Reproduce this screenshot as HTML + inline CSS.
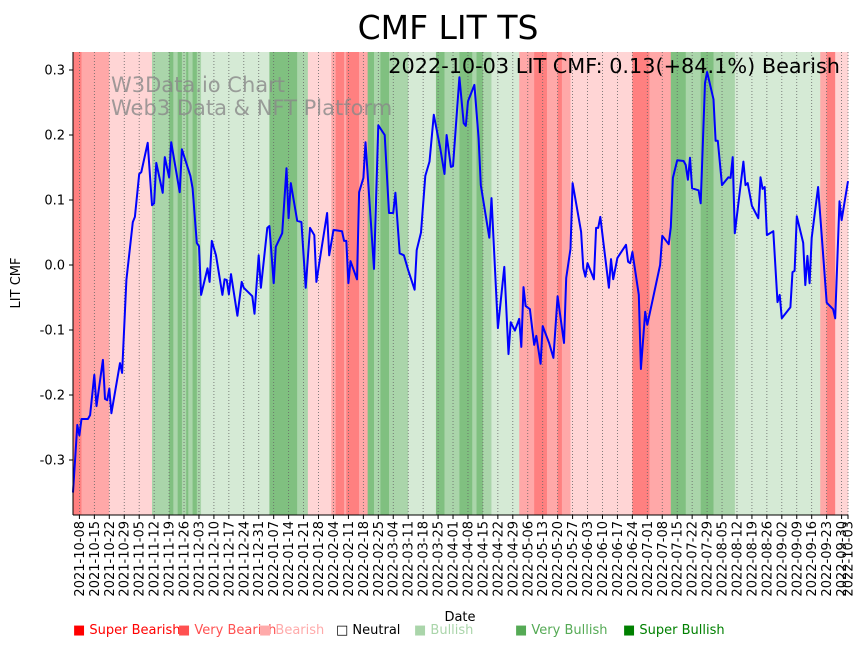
<!DOCTYPE html>
<html><head><meta charset="utf-8"><style>
body{margin:0;background:#fff;font-family:"Liberation Sans","DejaVu Sans",sans-serif;}
svg text{font-family:"DejaVu Sans","Liberation Sans",sans-serif;}
</style></head><body>
<svg id="chart" width="867" height="646" xmlns="http://www.w3.org/2000/svg">
<text x="448" y="39" font-size="33" text-anchor="middle">CMF LIT TS</text>
<g id="bands"></g><g id="grid"></g>
<text x="111" y="92" font-size="21" fill="#888" fill-opacity="0.8">W3Data.io Chart</text>
<text x="111" y="115" font-size="21" fill="#888" fill-opacity="0.8">Web3 Data &amp; NFT Platform</text>
<g id="line"></g>
<text x="840" y="73" font-size="20.8" text-anchor="end">2022-10-03 LIT CMF: 0.13(+84.1%) Bearish</text>
<g id="axes"></g>
<text transform="translate(20,283) rotate(-90)" font-size="13" text-anchor="middle">LIT CMF</text>
<text x="460" y="621" font-size="13" text-anchor="middle">Date</text>
<g id="legend" font-size="13">
<text x="73" y="634" fill="#ff0000">■ Super Bearish</text>
<text x="178" y="634" fill="#ff5050">■ Very Bearish</text>
<text x="259" y="634" fill="#ffaaaa">■ Bearish</text>
<text x="336" y="634" fill="#000">□ Neutral</text>
<text x="414" y="634" fill="#aad5aa">■ Bullish</text>
<text x="515" y="634" fill="#55aa55">■ Very Bullish</text>
<text x="623" y="634" fill="#008000">■ Super Bullish</text>
</g>
</svg>
<script>
const days=[0,2,3,4,7,8,10,11,14,15,16,17,18,22,23,25,28,29,31,32,35,37,38,39,42,43,45,46,50,51,55,56,58,59,60,63,64,65,67,70,71,72,73,74,77,79,80,84,85,87,88,91,92,94,95,98,100,101,102,105,107,109,111,113,114,116,119,120,122,126,127,128,129,130,133,134,136,137,141,143,146,148,150,151,153,155,157,160,161,163,165,167,169,172,174,175,177,178,181,183,184,185,188,190,191,195,196,199,202,204,205,207,209,210,211,212,214,216,217,219,220,223,225,227,230,231,233,234,238,239,240,241,244,245,246,247,251,252,253,255,259,260,261,262,265,266,268,269,275,276,279,280,281,283,286,287,288,289,290,293,294,296,297,300,301,302,304,307,308,309,310,314,315,316,318,321,322,323,324,325,328,330,331,332,336,337,338,339,342,343,344,345,346,349,353,356,357,359,360,363];
const values=[-0.35,-0.246,-0.262,-0.237,-0.237,-0.231,-0.169,-0.217,-0.146,-0.206,-0.208,-0.19,-0.228,-0.151,-0.166,-0.023,0.066,0.074,0.14,0.143,0.188,0.092,0.095,0.157,0.111,0.166,0.135,0.189,0.112,0.178,0.137,0.118,0.034,0.029,-0.046,-0.005,-0.026,0.037,0.015,-0.046,-0.022,-0.023,-0.045,-0.014,-0.078,-0.026,-0.035,-0.048,-0.075,0.015,-0.035,0.057,0.06,-0.028,0.028,0.049,0.149,0.072,0.126,0.068,0.066,-0.035,0.057,0.046,-0.026,0.017,0.08,0.015,0.054,0.052,0.037,0.037,-0.028,0.006,-0.022,0.112,0.134,0.189,-0.006,0.215,0.2,0.08,0.08,0.111,0.018,0.015,-0.008,-0.038,0.023,0.05,0.137,0.159,0.231,0.18,0.14,0.2,0.151,0.152,0.289,0.218,0.214,0.252,0.277,0.195,0.123,0.042,0.103,-0.097,-0.003,-0.137,-0.088,-0.101,-0.083,-0.126,-0.034,-0.063,-0.068,-0.123,-0.109,-0.152,-0.094,-0.12,-0.143,-0.048,-0.12,-0.02,0.025,0.126,0.051,-0.005,-0.018,0.003,-0.022,0.057,0.057,0.074,-0.035,0.009,-0.022,0.011,0.031,0.005,0.003,0.02,-0.046,-0.16,-0.072,-0.092,0,0.045,0.032,0.058,0.134,0.161,0.16,0.154,0.131,0.165,0.118,0.115,0.095,0.28,0.297,0.255,0.191,0.191,0.123,0.135,0.134,0.166,0.049,0.159,0.123,0.126,0.091,0.072,0.135,0.117,0.12,0.046,0.052,-0.057,-0.046,-0.082,-0.065,-0.011,-0.009,0.075,0.034,-0.031,0.014,-0.028,0.042,0.12,-0.058,-0.068,-0.082,0.098,0.069,0.129];
// band segments (day offsets) and sentiment category (-3..3)
const bandStarts=[0,4,17,37,45,47,49,51,53,54,56,58,60,92,105,110,121,123,127,128,134,138,141,144,148,157,170,174,181,187,189,192,196,209,216,222,227,229,233,262,270,280,287,294,300,310,350,353,357];
const bandEnds  =[4,17,37,45,47,49,51,53,54,56,58,60,92,105,110,121,123,127,128,134,138,141,144,148,157,170,174,181,187,189,192,196,209,216,222,227,229,233,262,270,280,287,294,300,310,350,353,357,364];
const bandCats  =[-3,-2,-1,2,3,2,3,2,3,2,3,2,1,3,2,-1,-2,-3,-2,-3,-2,3,2,3,2,1,3,2,3,2,3,2,1,-2,-3,-2,-3,-2,-1,-3,-2,3,2,3,2,1,-2,-3,-1];
const yTicks=[0.3,0.2,0.1,0.0,-0.1,-0.2,-0.3];
const tickDates=[];(function(){let d=new Date(Date.UTC(2021,9,8));while(d<=new Date(Date.UTC(2022,8,30))){tickDates.push(d.toISOString().slice(0,10));d=new Date(d.getTime()+7*864e5);}tickDates.push("2022-10-03");})();
const startDate=Date.UTC(2021,9,5);
const X0=73,X1=848,Y0=52,Y1=515;
const xScale=d=>X0+d*(X1-X0)/363;
const yScale=v=>265-650*v;
const catColor={"-3":"#ff8080","-2":"#ffa8a8","-1":"#ffd5d5","0":"#ffffff","1":"#d5ead5","2":"#aad5aa","3":"#80c080"};
const NS="http://www.w3.org/2000/svg";
function mk(t,a,p){const e=document.createElementNS(NS,t);for(const k in a)e.setAttribute(k,a[k]);p.appendChild(e);return e;}
const bands=document.getElementById('bands');
bandCats.forEach((c,i)=>{const x1=Math.max(X0,xScale(bandStarts[i]));const x2=Math.min(X1,xScale(bandEnds[i]));if(x2<=x1)return;
const r=mk('rect',{x:x1,y:Y0,width:x2-x1+0.3,height:Y1-Y0,fill:catColor[c]},bands);

});
const grid=document.getElementById('grid'),axes=document.getElementById('axes');
tickDates.forEach(s=>{const d=(Date.parse(s)-startDate)/864e5;const x=xScale(d);
const g=mk('line',{x1:x,x2:x,y1:Y0,y2:Y1,stroke:'#666','stroke-width':0.8,'stroke-dasharray':'1,2'},grid);


mk('line',{x1:x,x2:x,y1:Y1,y2:Y1+4,stroke:'#000'},axes);
const t=mk('text',{transform:`translate(${x+4.5},${Y1+6}) rotate(-90)`,'font-size':13,'text-anchor':'end'},axes);t.textContent=s;

});
yTicks.forEach(v=>{const y=yScale(v);mk('line',{x1:X0-4,x2:X0,y1:y,y2:y,stroke:'#000'},axes);
const t=mk('text',{x:X0-8,y:y+4.5,'font-size':13,'text-anchor':'end'},axes);t.textContent=v.toFixed(1);

});
mk('line',{x1:X0,x2:X0,y1:Y0,y2:Y1,stroke:'#000'},axes);
mk('line',{x1:X0,x2:X1,y1:Y1,y2:Y1,stroke:'#000'},axes);
const pts=days.map((d,i)=>xScale(d).toFixed(1)+','+yScale(values[i]).toFixed(1)).join(' ');
const pl=mk('polyline',{points:pts,fill:'none',stroke:'#0000ff','stroke-width':2,'stroke-linejoin':'round'},document.getElementById('line'));


</script>
</body></html>
